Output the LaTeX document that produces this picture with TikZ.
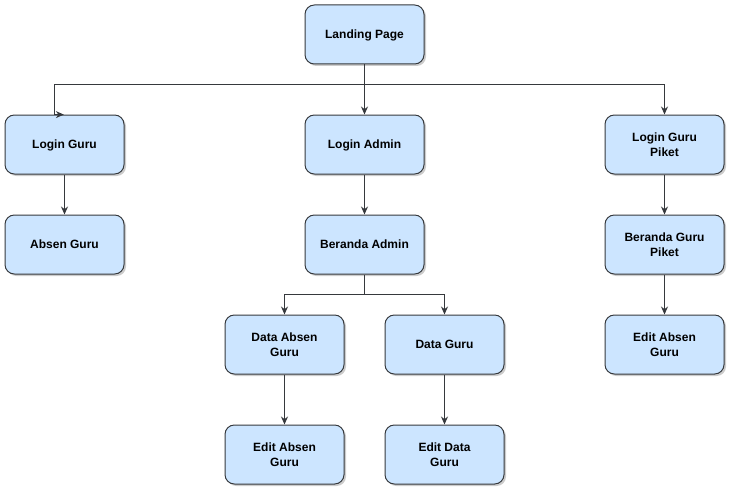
\documentclass[tikz,border=0pt]{standalone}
\usepackage{fontspec}
\setmainfont{Liberation Sans}
\usepackage{xcolor}
\usetikzlibrary{arrows.meta,shadows}
\definecolor{boxfill}{RGB}{204,229,255}
\definecolor{boxline}{RGB}{54,57,61}
\tikzset{
  pagebox/.style={draw=boxline, fill=boxfill, rounded corners=7pt, line width=0.75pt,
    minimum width=89.25pt, minimum height=44.25pt, align=center, inner sep=0.75pt,
    text depth=0pt, font=\fontsize{9}{11.25}\selectfont\bfseries,
    drop shadow={shadow xshift=1.5pt, shadow yshift=-1.5pt, fill=black, opacity=0.2}},
  link/.style={draw=boxline, line width=0.75pt, -{Stealth[length=6pt,width=5.25pt]}},
  plain/.style={draw=boxline, line width=0.75pt}
}
\begin{document}
\begin{tikzpicture}[x=0.75pt,y=0.75pt,yscale=-1,xscale=1]
\useasboundingbox (0,0) rectangle (731,492);
%Shape: Rounded Rectangle
\node [pagebox] (landing) at (364.5,34.5) {Landing Page};
%Shape: Rounded Rectangle
\node [pagebox] (loginguru) at (64.5,144.5) {Login Guru};
\node [pagebox] (loginadmin) at (364.5,144.5) {Login Admin};
\node [pagebox] (loginpiket) at (664.5,144.5) {Login Guru\\Piket};
%Shape: Rounded Rectangle
\node [pagebox] (absenguru) at (64.5,244.5) {Absen Guru};
\node [pagebox] (berandaadmin) at (364.5,244.5) {Beranda Admin};
\node [pagebox] (berandapiket) at (664.5,244.5) {Beranda Guru\\Piket};
%Shape: Rounded Rectangle
\node [pagebox] (dataabsen) at (284.5,344.5) {Data Absen\\Guru};
\node [pagebox] (dataguru) at (444.5,344.5) {Data Guru};
\node [pagebox] (editpiket) at (664.5,344.5) {Edit Absen\\Guru};
%Shape: Rounded Rectangle
\node [pagebox] (editabsen) at (284.5,454.5) {Edit Absen\\Guru};
\node [pagebox] (editdata) at (444.5,454.5) {Edit Data\\Guru};
%Straight Lines
\coordinate (split) at (364.5,84);
\coordinate (leftdrop) at (54,84);
\coordinate (leftend) at (54,114.6);
\draw [plain] (landing.south) -- (split) -- (leftdrop) -- (leftend);
\draw [link] (leftend) -- ([xshift=-0.5pt]leftend -| loginguru.north);
\draw [link] (landing.south) -- (loginadmin.north);
\draw [link] (split) -| (loginpiket.north);
%Straight Lines
\draw [link] (loginguru) -- (absenguru);
\draw [link] (loginadmin) -- (berandaadmin);
\draw [link] (loginpiket) -- (berandapiket);
\draw [link] (berandapiket) -- (editpiket);
%Straight Lines
\coordinate (branch) at (364.5,294);
\draw [plain] (berandaadmin.south) -- (branch);
\draw [link] (branch) -| (dataabsen.north);
\draw [link] (branch) -| (dataguru.north);
\draw [link] (dataabsen) -- (editabsen);
\draw [link] (dataguru) -- (editdata);
\end{tikzpicture}
\end{document}
